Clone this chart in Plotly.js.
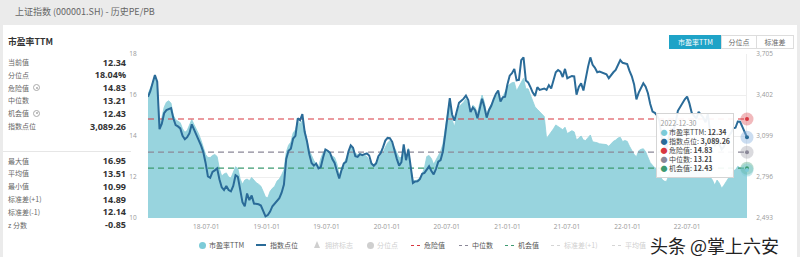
<!DOCTYPE html>
<html>
<head>
<meta charset="utf-8">
<script src="https://cdn.plot.ly/plotly-3.0.1.min.js"></script>
<style>
  body{margin:0;padding:0;}
  #wrap{position:relative;width:800px;height:257px;background:#ebebeb;overflow:hidden;font-family:"Noto Sans CJK SC","Noto Sans",sans-serif;}
  #panel{position:absolute;left:3px;top:25px;width:794px;height:232px;background:#fff;}
  #hdr{position:absolute;left:15px;top:4px;font-size:9px;line-height:16px;color:#666;}
  #chart{position:absolute;left:0;top:0;width:800px;height:257px;z-index:2;}
  .ov{position:absolute;z-index:3;white-space:nowrap;}
  .row{position:absolute;left:8px;width:118px;height:12px;display:flex;justify-content:space-between;align-items:center;z-index:3;}
  .lab{font-size:7px;color:#666;display:flex;align-items:center;}
  .val{font-size:9px;font-weight:bold;color:#333;font-family:"Open Sans","Noto Sans",sans-serif;}
  .info{display:inline-block;width:5px;height:5px;border:1px solid #aaa;border-radius:50%;margin-left:4px;position:relative;}
  .info:after{content:"";position:absolute;left:1.5px;top:1.5px;width:2px;height:2px;border-radius:50%;background:#aaa;}
  .btn{position:absolute;top:35px;height:12px;line-height:12px;font-size:7px;text-align:center;border:1px solid #ddd;color:#666;background:#fff;z-index:3;}
  .leg{position:absolute;top:240px;height:10px;line-height:10px;font-size:7px;color:#555;z-index:3;white-space:nowrap;}
  .fad{color:#cfcfcf;}
  #wm{position:absolute;left:650px;top:236px;font-size:18px;line-height:18px;height:18px;color:#222;z-index:4;white-space:nowrap;
      text-shadow:0 0 2px #fff,0 0 2px #fff,0 0 3px #fff;}
</style>
</head>
<body>
<div id="wrap">
  <div id="hdr">上证指数 (000001.SH) - 历史PE/PB</div>
  <div id="panel"></div>
  <div id="chart"></div>
</div>
<script>
// ---------------- DATA ----------------
const dates = [
'2018-01-05','2018-01-12','2018-01-19','2018-01-26','2018-02-02','2018-02-09','2018-02-16','2018-02-23','2018-03-02','2018-03-09',
'2018-03-16','2018-03-23','2018-03-30','2018-04-06','2018-04-13','2018-04-20','2018-04-27','2018-05-04','2018-05-11','2018-05-18',
'2018-05-25','2018-06-01','2018-06-08','2018-06-15','2018-06-22','2018-06-29','2018-07-06','2018-07-13','2018-07-20','2018-07-27',
'2018-08-03','2018-08-10','2018-08-17','2018-08-24','2018-08-31','2018-09-07','2018-09-14','2018-09-21','2018-09-28','2018-10-05',
'2018-10-12','2018-10-19','2018-10-26','2018-11-02','2018-11-09','2018-11-16','2018-11-23','2018-11-30','2018-12-07','2018-12-14',
'2018-12-21','2018-12-28',
'2019-01-04','2019-01-11','2019-01-18','2019-01-25','2019-02-01','2019-02-08','2019-02-15','2019-02-22','2019-03-01','2019-03-08',
'2019-03-15','2019-03-22','2019-03-29','2019-04-05','2019-04-12','2019-04-19','2019-04-26','2019-05-03','2019-05-10','2019-05-17',
'2019-05-24','2019-05-31','2019-06-07','2019-06-14','2019-06-21','2019-06-28','2019-07-05','2019-07-12','2019-07-19','2019-07-26',
'2019-08-02','2019-08-09','2019-08-16','2019-08-23','2019-08-30','2019-09-06','2019-09-13','2019-09-20','2019-09-27','2019-10-04',
'2019-10-11','2019-10-18','2019-10-25','2019-11-01','2019-11-08','2019-11-15','2019-11-22','2019-11-29','2019-12-06','2019-12-13',
'2019-12-20','2019-12-27',
'2020-01-03','2020-01-10','2020-01-17','2020-01-24','2020-01-31','2020-02-07','2020-02-14','2020-02-21','2020-02-28','2020-03-06',
'2020-03-13','2020-03-20','2020-03-27','2020-04-03','2020-04-10','2020-04-17','2020-04-24','2020-05-01','2020-05-08','2020-05-15',
'2020-05-22','2020-05-29','2020-06-05','2020-06-12','2020-06-19','2020-06-26','2020-07-03','2020-07-10','2020-07-17','2020-07-24',
'2020-07-31','2020-08-07','2020-08-14','2020-08-21','2020-08-28','2020-09-04','2020-09-11','2020-09-18','2020-09-25','2020-10-02',
'2020-10-09','2020-10-16','2020-10-23','2020-10-30','2020-11-06','2020-11-13','2020-11-20','2020-11-27','2020-12-04','2020-12-11',
'2020-12-18','2020-12-25',
'2021-01-01','2021-01-08','2021-01-15','2021-01-22','2021-01-29','2021-02-05','2021-02-12','2021-02-19','2021-02-26','2021-03-05',
'2021-03-12','2021-03-19','2021-03-26','2021-04-02','2021-04-09','2021-04-16','2021-04-23','2021-04-30','2021-05-07','2021-05-14',
'2021-05-21','2021-05-28','2021-06-04','2021-06-11','2021-06-18','2021-06-25','2021-07-02','2021-07-09','2021-07-16','2021-07-23',
'2021-07-30','2021-08-06','2021-08-13','2021-08-20','2021-08-27','2021-09-03','2021-09-10','2021-09-17','2021-09-24','2021-10-01',
'2021-10-08','2021-10-15','2021-10-22','2021-10-29','2021-11-05','2021-11-12','2021-11-19','2021-11-26','2021-12-03','2021-12-10',
'2021-12-17','2021-12-24','2021-12-31',
'2022-01-07','2022-01-14','2022-01-21','2022-01-28','2022-02-04','2022-02-11','2022-02-18','2022-02-25','2022-03-04','2022-03-11',
'2022-03-18','2022-03-25','2022-04-01','2022-04-08','2022-04-15','2022-04-22','2022-04-29','2022-05-06','2022-05-13','2022-05-20',
'2022-05-27','2022-06-03','2022-06-10','2022-06-17','2022-06-24','2022-07-01','2022-07-08','2022-07-15','2022-07-22','2022-07-29',
'2022-08-05','2022-08-12','2022-08-19','2022-08-26','2022-09-02','2022-09-09','2022-09-16','2022-09-23','2022-09-30','2022-10-07',
'2022-10-14','2022-10-21','2022-10-28','2022-11-04','2022-11-11','2022-11-18','2022-11-25','2022-12-02','2022-12-09','2022-12-16',
'2022-12-23','2022-12-30'
];

const peTTM = [
16.05,16.3,16.6,16.95,16.6,14.6,14.9,15.4,15.65,15.72,
15.6,15.0,14.8,14.72,14.65,14.35,14.18,14.27,14.5,14.8,
14.55,14.35,14.1,13.8,13.5,13.1,12.95,12.95,13.05,13.1,
13.0,12.4,12.05,12.15,12.2,12.0,11.95,12.2,12.5,12.42,
11.9,11.65,11.85,11.9,11.82,11.98,11.85,11.72,11.65,11.55,
11.3,11.02,10.99,11.3,11.45,11.55,11.8,11.9,12.1,12.35,
13.2,13.55,13.7,14.15,14.3,14.75,14.6,14.75,14.3,13.7,
13.3,13.05,12.8,12.65,12.5,12.9,13.2,13.3,13.28,13.1,
13.02,12.95,12.65,12.1,12.35,12.66,12.9,13.2,13.48,13.35,
13.15,13.1,13.15,13.12,13.07,13.0,12.8,12.64,12.6,12.72,
12.9,13.08,13.2,13.45,13.66,13.78,13.65,13.42,13.18,12.95,
12.95,13.3,12.75,13.4,12.5,11.85,11.82,11.86,11.95,12.15,
12.45,13.0,13.05,12.9,12.62,12.85,13.07,13.25,13.6,14.3,
15.0,15.8,14.8,14.45,15.0,15.4,15.55,15.65,15.82,15.55,
15.05,15.5,15.4,15.1,15.6,16.0,15.65,15.05,15.35,15.58,
15.75,15.95,16.07,15.76,15.92,16.15,16.42,16.52,16.6,16.62,
16.2,16.41,16.65,16.82,16.3,16.3,16.0,15.7,15.42,15.3,
15.18,15.08,14.95,13.88,14.04,14.15,14.35,14.54,14.47,14.36,
14.31,14.43,14.12,14.19,14.26,14.2,13.8,13.9,14.0,13.8,
13.78,13.92,14.05,13.72,13.71,13.67,13.62,13.6,13.58,13.58,
13.5,13.65,13.74,13.8,13.9,13.94,13.73,13.78,13.74,13.5,
13.26,13.1,12.99,13.28,13.35,13.38,13.23,12.95,12.7,12.57,
12.45,12.4,12.25,11.9,11.8,11.78,12.05,12.3,12.2,12.45,
12.7,12.75,12.85,12.9,12.95,12.75,12.5,12.45,12.35,12.55,
12.45,12.35,12.2,12.45,12.0,11.85,11.6,11.85,11.7,11.45,
11.6,11.8,11.95,12.05,12.3,12.35,12.52,12.45,12.42,12.38,12.34
];

const indexPts = [
3389,3430,3490,3550,3500,3150,3190,3267,3290,3300,
3305,3230,3180,3170,3155,3100,3075,3090,3120,3185,
3150,3110,3069,3030,2980,2900,2800,2790,2834,2845,
2860,2780,2720,2700,2730,2700,2690,2730,2809,2797,
2700,2610,2580,2674,2625,2660,2600,2598,2594,2585,
2537,2505,2515,2540,2580,2600,2612,2640,2680,2740,
2930,2990,3005,3080,3100,3230,3215,3260,3130,3060,
2965,2900,2880,2895,2860,2870,2940,3000,2990,2975,
2928,2900,2840,2785,2847,2896,2909,2985,3030,3012,
2950,2945,2965,2958,2965,2970,2955,2896,2879,2896,
2950,2972,3015,3065,3085,3083,3056,2985,2930,2880,
2905,3037,2920,3000,2855,2752,2763,2765,2780,2820,
2826,2850,2875,2840,2815,2855,2909,2921,2985,3110,
3250,3378,3258,3212,3280,3345,3360,3375,3398,3365,
3275,3310,3290,3230,3300,3375,3315,3235,3290,3322,
3370,3410,3435,3353,3385,3390,3480,3545,3563,3595,
3510,3514,3660,3680,3510,3495,3460,3420,3395,3460,
3440,3445,3450,3440,3475,3450,3514,3570,3587,3575,
3535,3595,3526,3537,3543,3540,3405,3462,3488,3435,
3530,3610,3680,3625,3603,3570,3575,3568,3558,3555,
3526,3550,3570,3587,3625,3660,3640,3637,3630,3580,
3540,3480,3370,3420,3460,3489,3464,3415,3335,3280,
3270,3250,3210,3087,3047,3001,3084,3146,3130,3195,
3285,3316,3350,3370,3390,3340,3270,3250,3227,3277,
3258,3236,3200,3262,3126,3088,3024,3071,3038,3000,
3020,3070,3097,3120,3156,3160,3206,3204,3167,3120,3089.26
];

const dangerVal = 14.83;
const medianVal = 13.21;
const chanceVal = 12.43;

const xTickVals = ['2018-07-01','2019-01-01','2019-07-01','2020-01-01','2020-07-01','2021-01-01','2021-07-01','2022-01-01','2022-07-01'];
const xTickText = ['18-07-01','19-01-01','19-07-01','20-01-01','20-07-01','21-01-01','21-07-01','22-01-01','22-07-01'];
const yTickVals = [10,12,14,16,18];
const y2TickVals = [2493,2796,3099,3402,3705];
const y2TickText = ['2,493','2,796','3,099','3,402','3,705'];

const statLabels1 = ['当前值','分位点','危险值','中位数','机会值','指数点位'];
const statValues1 = ['12.34','18.04%','14.83','13.21','12.43','3,089.26'];
const statLabels2 = ['最大值','平均值','最小值','标准差(+1)','标准差(-1)','z 分数'];
const statValues2 = ['16.95','13.51','10.99','14.89','12.14','-0.85'];

// ---------------- COLORS ----------------
const cArea = '#98d4de', cLine = '#2a6b98', cRed = '#d8363f', cGray = '#8b8898', cGreen = '#3d9a70';

// ---------------- SIDEBAR (HTML) ----------------
const wrap = document.getElementById('wrap');
function add(html){ wrap.insertAdjacentHTML('beforeend', html); }
add('<div class="ov" style="left:8px;top:35px;font-size:8.8px;line-height:14px;font-weight:bold;color:#333;">市盈率TTM</div>');
const c1 = [62,74.8,87.6,100.4,113.2,126];
const c2 = [160.6,173.4,186.2,199,211.8,224.6];
statLabels1.forEach((l,i)=>{
  const info = (l==='危险值'||l==='机会值') ? '<span class="info"></span>' : '';
  add(`<div class="row" style="top:${c1[i]-6}px"><span class="lab">${l}${info}</span><span class="val">${statValues1[i]}</span></div>`);
});
add('<div class="ov" style="left:3px;top:151px;width:128px;height:1px;background:#e6e6e6;"></div>');
statLabels2.forEach((l,i)=>{
  add(`<div class="row" style="top:${c2[i]-6}px"><span class="lab">${l}</span><span class="val">${statValues2[i]}</span></div>`);
});

// buttons
add('<div class="btn" style="left:669px;width:51px;background:#1ea3c7;border-color:#1ea3c7;color:#fff;">市盈率TTM</div>');
add('<div class="btn" style="left:721px;width:34px;">分位点</div>');
add('<div class="btn" style="left:756px;width:36px;">标准差</div>');

// legend
const legItems = [
  {t:'市盈率TTM', sym:'circle', c:'#7ccbd8', sx:199, tx:209, f:false},
  {t:'指数点位', sym:'line', c:cLine, sx:256, tx:270, f:false},
  {t:'拥挤标志', sym:'tri', c:'#cfcfcf', sx:314, tx:325, f:true},
  {t:'分位点', sym:'circle', c:'#cfcfcf', sx:367, tx:377, f:true},
  {t:'危险值', sym:'dash', c:cRed, sx:411, tx:424, f:false},
  {t:'中位数', sym:'dash', c:cGray, sx:459, tx:472, f:false},
  {t:'机会值', sym:'dash', c:cGreen, sx:505, tx:518, f:false},
  {t:'标准差(+1)', sym:'dash', c:'#d5d5d5', sx:551, tx:564, f:true},
  {t:'平均值', sym:'dash', c:'#d5d5d5', sx:612, tx:625, f:true}
];
legItems.forEach(it=>{
  let s='';
  if(it.sym==='circle') s=`<div class="ov" style="left:${it.sx}px;top:241.5px;width:7px;height:7px;border-radius:50%;background:${it.c};"></div>`;
  if(it.sym==='line') s=`<div class="ov" style="left:${it.sx}px;top:244px;width:10px;height:2px;background:${it.c};"></div>`;
  if(it.sym==='dash') s=`<div class="ov" style="left:${it.sx}px;top:244.5px;width:9px;height:0;border-top:1.5px dashed ${it.c};"></div>`;
  if(it.sym==='tri') s=`<div class="ov" style="left:${it.sx}px;top:241px;width:0;height:0;border-left:3.5px solid transparent;border-right:3.5px solid transparent;border-bottom:7px solid ${it.c};"></div>`;
  add(s + `<div class="leg${it.f?' fad':''}" style="left:${it.tx}px;">${it.t}</div>`);
});
add('<div id="wm">头条 @掌上六安</div>');

// ---------------- PLOT ----------------
const n = dates.length;
const lastDate = dates[n-1];
const firstDate = dates[0];
const peLast = peTTM[n-1];
const idxLast = indexPts[n-1];
const fmt = v => v.toLocaleString('en-US',{minimumFractionDigits:2, maximumFractionDigits:2});

const traces = [
  {x:dates, y:peTTM, type:'scatter', mode:'lines', fill:'tozeroy', fillcolor:cArea,
   line:{color:'#90d0da', width:0.8}, yaxis:'y', hoverinfo:'skip'},
  {x:[firstDate,lastDate], y:[dangerVal,dangerVal], type:'scatter', mode:'lines', line:{color:cRed,width:1.2,dash:'6px,4px'}},
  {x:[firstDate,lastDate], y:[medianVal,medianVal], type:'scatter', mode:'lines', line:{color:cGray,width:1.2,dash:'6px,4px'}},
  {x:[firstDate,lastDate], y:[chanceVal,chanceVal], type:'scatter', mode:'lines', line:{color:cGreen,width:1.2,dash:'6px,4px'}},
  {x:dates, y:indexPts, type:'scatter', mode:'lines', line:{color:cLine, width:2}, yaxis:'y2'},
  // hover halos
  {x:[lastDate,lastDate,lastDate,lastDate], y:[dangerVal,medianVal,chanceVal,peLast], type:'scatter', mode:'markers',
   marker:{size:13, color:['rgba(216,54,63,0.35)','rgba(150,150,160,0.35)','rgba(61,154,112,0.35)','rgba(124,203,216,0.45)']}, cliponaxis:false},
  {x:[lastDate], y:[idxLast], yaxis:'y2', type:'scatter', mode:'markers',
   marker:{size:13, color:'rgba(140,180,225,0.45)'}, cliponaxis:false},
  {x:[lastDate,lastDate,lastDate,lastDate], y:[dangerVal,medianVal,chanceVal,peLast], type:'scatter', mode:'markers',
   marker:{size:4, color:[cRed,cGray,cGreen,'#7ccbd8']}, cliponaxis:false},
  {x:[lastDate], y:[idxLast], yaxis:'y2', type:'scatter', mode:'markers',
   marker:{size:4, color:cLine}, cliponaxis:false}
];

const tipText =
  '<span style="color:#999">' + lastDate + '</span><br>' +
  '<span style="color:#7ccbd8">●</span> 市盈率TTM: <b>' + peLast.toFixed(2) + '</b><br>' +
  '<span style="color:' + cLine + '">●</span> 指数点位: <b>' + fmt(idxLast) + '</b><br>' +
  '<span style="color:' + cRed + '">●</span> 危险值: <b>' + dangerVal.toFixed(2) + '</b><br>' +
  '<span style="color:' + cGray + '">●</span> 中位数: <b>' + medianVal.toFixed(2) + '</b><br>' +
  '<span style="color:' + cGreen + '">●</span> 机会值: <b>' + chanceVal.toFixed(2) + '</b>';

const tickFont = {family:'"Open Sans","Noto Sans",sans-serif', size:6.5, color:'#999'};
const layout = {
  width:800, height:257,
  margin:{l:148, r:53, t:54, b:39, pad:0},
  paper_bgcolor:'rgba(0,0,0,0)', plot_bgcolor:'rgba(0,0,0,0)',
  showlegend:false,
  font:{family:'"Noto Sans CJK SC","Noto Sans",sans-serif', color:'#555'},
  xaxis:{type:'date', range:[firstDate,lastDate], tickvals:xTickVals, ticktext:xTickText,
         showgrid:false, zeroline:false, showline:false, ticks:'outside', ticklen:2, tickcolor:'rgba(0,0,0,0)', tickfont:tickFont},
  yaxis:{range:[10,18], tickvals:yTickVals, gridcolor:'#eeeeee', gridwidth:1, zeroline:false, showline:false,
         ticks:'outside', ticklen:9, tickcolor:'rgba(0,0,0,0)', tickfont:tickFont},
  yaxis2:{range:[2493,3705], overlaying:'y', side:'right', tickvals:y2TickVals, ticktext:y2TickText, showgrid:false,
          zeroline:false, showline:false, ticks:'outside', ticklen:7, tickcolor:'rgba(0,0,0,0)', tickfont:tickFont},
  shapes:[
    {type:'line', xref:'x', yref:'paper', x0:lastDate, x1:lastDate, y0:0, y1:1, line:{color:'#dcdcdc', width:1}, layer:'below'}
  ],
  annotations:[
    {xref:'paper', yref:'paper', x:(656-148)/599, y:(218-112.7)/164, xanchor:'left', yanchor:'top',
     text:tipText, showarrow:false, align:'left', bgcolor:'rgba(255,255,255,0.93)', bordercolor:'#d5d5d5',
     borderwidth:1, borderpad:3.5, font:{size:7, color:'#444', family:'"Noto Sans CJK SC","Noto Sans",sans-serif'}}
  ]
};

Plotly.newPlot('chart', traces, layout, {staticPlot:true, displayModeBar:false});
</script>
</body>
</html>
